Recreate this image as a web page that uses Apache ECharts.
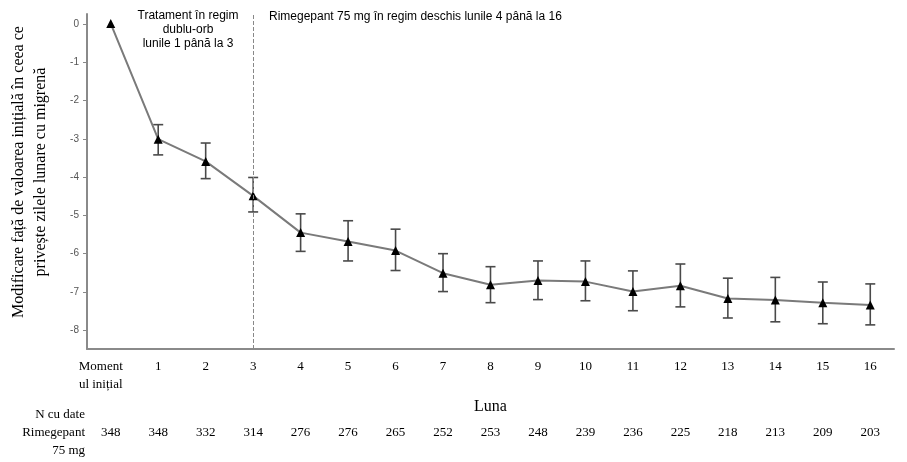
<!DOCTYPE html>
<html>
<head>
<meta charset="utf-8">
<script src="https://cdn.jsdelivr.net/npm/echarts@6/dist/echarts.min.js"></script>
<style>
  html, body { margin: 0; padding: 0; background: #fff; }
  #main { width: 907px; height: 462px; }
</style>
</head>
<body>
<div id="main"></div>
<script>
var months = ['Moment\nul inițial', '1', '2', '3', '4', '5', '6', '7', '8', '9', '10', '11', '12', '13', '14', '15', '16'];
var meanChange = [0, -3.02, -3.6, -4.5, -5.46, -5.69, -5.93, -6.52, -6.82, -6.71, -6.74, -7.0, -6.85, -7.18, -7.22, -7.29, -7.35];
var upperCI = [null, -2.64, -3.12, -4.02, -4.97, -5.15, -5.37, -6.01, -6.35, -6.2, -6.2, -6.46, -6.28, -6.65, -6.63, -6.75, -6.8];
var lowerCI = [null, -3.43, -4.05, -4.92, -5.95, -6.2, -6.45, -7.0, -7.29, -7.21, -7.24, -7.5, -7.4, -7.69, -7.79, -7.84, -7.87];
var nPatients = ['348', '348', '332', '314', '276', '276', '265', '252', '253', '248', '239', '236', '225', '218', '213', '209', '203'];
var yTicks = [0, -1, -2, -3, -4, -5, -6, -7, -8];

var serif = '"Liberation Serif", "DejaVu Serif", serif';
var sans = '"Liberation Sans", Arial, sans-serif';

var errData = [];
for (var i = 0; i < months.length; i++) {
	if (upperCI[i] != null) errData.push([i, upperCI[i], lowerCI[i]]);
}

var myChart = echarts.init(document.getElementById('main'));

var option = {
	animation: false,
	grid: [
		{left: 87, right: 13, top: 14, height: 335},
		{left: 87, right: 13, top: 24, height: 306}
	],
	xAxis: [
		{
			type: 'category',
			gridIndex: 0,
			data: months,
			axisLine: {onZero: false, lineStyle: {color: '#8a8a8a', width: 2}},
			axisTick: {alignWithLabel: true, length: 4, lineStyle: {color: '#666'}},
			axisLabel: {
				interval: 0, color: '#000', fontFamily: serif, fontSize: 13, margin: 9, lineHeight: 18,
				formatter: function (v, idx) {
					if (idx === 0) return v.split('\n').map(function (s) { return '{m|' + s + '}'; }).join('\n');
					return v;
				},
				rich: {m: {fontFamily: serif, fontSize: 13, color: '#000', lineHeight: 18, padding: [0, 20, 0, 0]}}
			},
			name: 'Luna',
			nameLocation: 'middle',
			nameGap: 45,
			nameTextStyle: {color: '#000', fontFamily: serif, fontSize: 16}
		},
		{
			type: 'category',
			gridIndex: 0,
			position: 'bottom',
			offset: 77,
			data: nPatients,
			axisLine: {show: false, onZero: false},
			axisTick: {show: false},
			axisLabel: {interval: 0, color: '#000', fontFamily: serif, fontSize: 13, margin: 0}
		},
		{
			type: 'category',
			gridIndex: 1,
			data: months,
			show: false
		}
	],
	yAxis: [
		{
			type: 'value',
			gridIndex: 0,
			min: -8.5,
			max: 0.25,
			splitLine: {show: false},
			axisTick: {show: false},
			axisLabel: {show: false},
			axisLine: {show: true, lineStyle: {color: '#8a8a8a', width: 2}}
		},
		{
			type: 'value',
			gridIndex: 1,
			min: yTicks[yTicks.length - 1],
			max: yTicks[0],
			interval: 1,
			splitLine: {show: false},
			axisLine: {show: false},
			axisTick: {show: true, length: 4, lineStyle: {color: '#888'}},
			axisLabel: {color: '#555', fontFamily: sans, fontSize: 10, margin: 8}
		}
	],
	graphic: [
		{
			type: 'text',
			x: 30, y: 172,
			rotation: Math.PI / 2,
			style: {
				text: 'Modificare față de valoarea inițială în ceea ce\nprivește zilele lunare cu migrenă',
				font: '16px ' + serif,
				fill: '#000',
				align: 'center',
				verticalAlign: 'middle',
				lineHeight: 22
			}
		},
		{
			type: 'text',
			x: 188, y: 30,
			style: {
				text: 'Tratament în regim\ndublu-orb\nlunile 1 până la 3',
				font: '12px ' + sans,
				fill: '#000',
				align: 'center',
				verticalAlign: 'middle',
				lineHeight: 14
			}
		},
		{
			type: 'text',
			x: 269, y: 17,
			style: {
				text: 'Rimegepant 75 mg în regim deschis lunile 4 până la 16',
				font: '12px ' + sans,
				fill: '#000',
				align: 'left',
				verticalAlign: 'middle'
			}
		},
		{
			type: 'text',
			x: 85, y: 433,
			style: {
				text: 'N cu date\nRimegepant\n75 mg',
				font: '13px ' + serif,
				fill: '#000',
				align: 'right',
				verticalAlign: 'middle',
				lineHeight: 18
			}
		}
	],
	series: [
		{
			name: 'Rimegepant 75 mg',
			type: 'line',
			xAxisIndex: 0,
			yAxisIndex: 0,
			data: meanChange,
			symbol: 'triangle',
			symbolSize: 9,
			itemStyle: {color: '#000'},
			lineStyle: {color: '#7a7a7a', width: 2},
			z: 3,
			markLine: {
				silent: true,
				symbol: 'none',
				label: {show: false},
				lineStyle: {color: '#888', type: 'dashed', width: 1},
				data: [{xAxis: 3}]
			}
		},
		{
			name: 'IC',
			type: 'custom',
			xAxisIndex: 0,
			yAxisIndex: 0,
			data: errData,
			z: 2,
			renderItem: function (params, api) {
				var top = api.coord([api.value(0), api.value(1)]);
				var bot = api.coord([api.value(0), api.value(2)]);
				var w = 5;
				var st = {stroke: '#4a4a4a', lineWidth: 1.6};
				return {
					type: 'group',
					children: [
						{type: 'line', shape: {x1: top[0], y1: top[1], x2: bot[0], y2: bot[1]}, style: st},
						{type: 'line', shape: {x1: top[0] - w, y1: top[1], x2: top[0] + w, y2: top[1]}, style: st},
						{type: 'line', shape: {x1: bot[0] - w, y1: bot[1], x2: bot[0] + w, y2: bot[1]}, style: st}
					]
				};
			}
		}
	]
};

myChart.setOption(option);
</script>
</body>
</html>
